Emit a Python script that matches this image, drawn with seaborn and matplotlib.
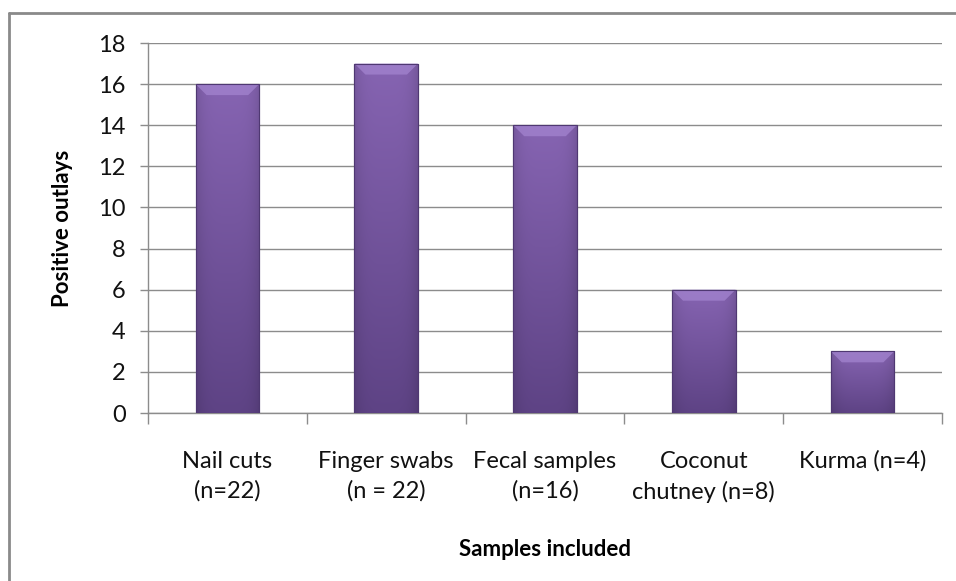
import numpy as np
import pandas as pd
import matplotlib
matplotlib.use("Agg")
import matplotlib.pyplot as plt
import seaborn as sns
from matplotlib.ticker import FixedLocator

categories = ["Nail cuts\n(n=22)", "Finger swabs\n(n = 22)", "Fecal samples\n(n=16)",
              "Coconut\nchutney (n=8)", "Kurma (n=4)"]
values = [16, 17, 14, 6, 3]
y_ticks = [0, 2, 4, 6, 8, 10, 12, 14, 16, 18]

sns.set_theme(style="white")
plt.rcParams['font.family'] = ['Lato', 'DejaVu Sans']

df = pd.DataFrame({"cat": categories, "val": values})

fig = plt.figure(figsize=(9.56, 5.81), dpi=100)
fig.patch.set_facecolor("white")
ax = fig.add_axes([148/956, 1-413/581, (942-148)/956, (413-43)/581])

sns.barplot(data=df, x="cat", y="val", color="#7b5aa6", width=0.40, ax=ax,
            edgecolor="#4f3872", linewidth=0.8, zorder=3)

ax.set_ylim(0, 18)
ax.set_xlim(-0.5, len(categories) - 0.5)

# 2D gradient fill on each bar: lighter top, darker bottom, darker edges
top = np.array([0x86, 0x64, 0xb2]) / 255
bot = np.array([0x5e, 0x43, 0x85]) / 255
ny, nx = 200, 100
vy = np.linspace(0, 1, ny)[:, None, None]           # 0 = bottom row
base = bot + (top - bot) * vy                         # (ny,1,3)
xx = np.linspace(-1, 1, nx)[None, :, None]
edge = 1 - 0.12 * np.abs(xx) ** 4
img = np.clip(base * edge, 0, 1)
px_per_unit_y = 370 / 18
px_per_unit_x = 794 / 5
for p in ax.patches:
    x0, y0 = p.get_x(), p.get_y()
    w, h = p.get_width(), p.get_height()
    im = ax.imshow(img, extent=[x0, x0 + w, y0, y0 + h], aspect="auto",
                   origin="lower", zorder=3.5, interpolation="bilinear")
    im.set_clip_path(p)
    bh = 11 / px_per_unit_y
    bw = 11 / px_per_unit_x
    ax.fill([x0, x0 + w, x0 + w - bw, x0 + bw],
            [y0 + h, y0 + h, y0 + h - bh, y0 + h - bh],
            color="#a384cf", alpha=0.75, zorder=3.6, linewidth=0)
    ax.add_patch(plt.Rectangle((x0, y0), w, h, fill=False, edgecolor="#4f3872",
                               linewidth=0.8, zorder=3.7))

ax.yaxis.set_major_locator(FixedLocator(y_ticks))
ax.xaxis.set_minor_locator(FixedLocator(np.arange(-0.5, len(categories), 1.0)))
ax.grid(axis="y", color="#8c8c8c", linewidth=1.0, zorder=0)
ax.set_axisbelow(True)

for s in ["top", "right"]:
    ax.spines[s].set_visible(False)
for s in ["left", "bottom"]:
    ax.spines[s].set_color("#8c8c8c")
    ax.spines[s].set_linewidth(1.0)

ax.tick_params(axis="y", which="major", direction="out", length=6, width=1,
               color="#8c8c8c", labelsize=17, labelcolor="#111111", pad=10, left=True)
ax.tick_params(axis="x", which="major", length=0, labelsize=17, labelcolor="#111111", pad=27)
ax.tick_params(axis="x", which="minor", direction="out", length=8, width=1,
               color="#8c8c8c", bottom=True)
for lbl in ax.get_xticklabels():
    lbl.set_linespacing(1.5)

ax.set_xlabel("Samples included", fontsize=16, fontweight="bold", labelpad=26, color="#000000")
ax.set_ylabel("Positive outlays", fontsize=16, fontweight="bold", labelpad=18, color="#000000")

# outer chart border (left and top visible)
fig.add_artist(plt.Line2D([9/956, 9/956], [0, 1-13/581], transform=fig.transFigure,
                          color="#8a8a8a", linewidth=2))
fig.add_artist(plt.Line2D([9/956, 1], [1-13/581, 1-13/581], transform=fig.transFigure,
                          color="#8a8a8a", linewidth=2))

fig.savefig("out.png", dpi=100, facecolor="white")
